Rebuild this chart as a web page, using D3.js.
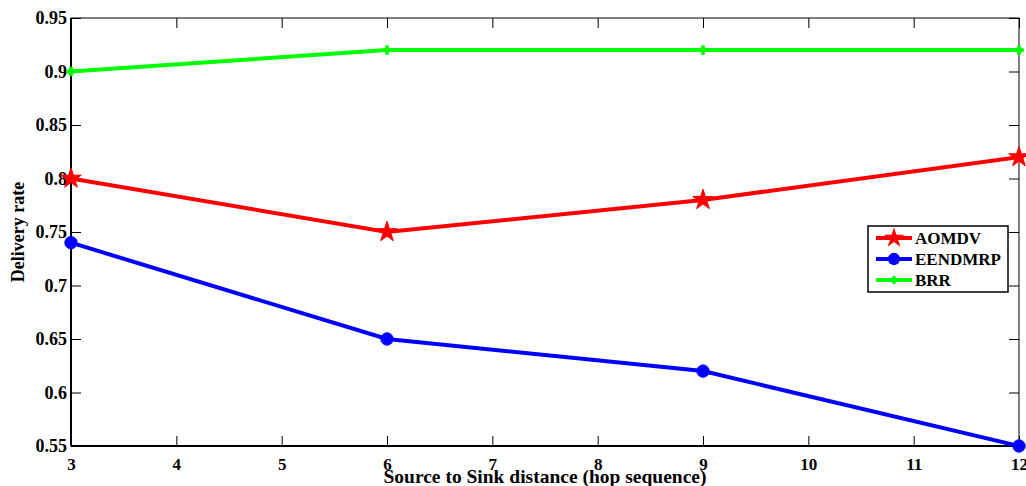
<!DOCTYPE html>
<html><head><meta charset="utf-8">
<script src="https://cdn.jsdelivr.net/npm/d3@7"></script>
<style>body{margin:0;background:#fff}svg{display:block}</style>
</head><body><svg id="c" width="1026" height="486"></svg>
<script>
const xValues = [3, 6, 9, 12];
const aomdv = [0.80, 0.75, 0.78, 0.82];
const eendmrp = [0.74, 0.65, 0.62, 0.55];
const brr = [0.90, 0.92, 0.92, 0.92];
const xTicks = [3,4,5,6,7,8,9,10,11,12];
const yTicks = [0.55,0.6,0.65,0.7,0.75,0.8,0.85,0.9,0.95];
const seriesNames = ["AOMDV", "EENDMRP", "BRR"];
const xLabel = "Source to Sink distance (hop sequence)";
const yLabel = "Delivery rate";

const svg = d3.select("#c");
const L = 71, R = 1019, T = 18, B = 446;
const x = d3.scaleLinear().domain([3, 12]).range([L, R]);
const y = d3.scaleLinear().domain([0.55, 0.95]).range([B, T]);
const font = "'Liberation Serif','Times New Roman',serif";

// box
svg.append("rect").attr("x", L).attr("y", T).attr("width", R - L).attr("height", B - T)
  .attr("fill", "none").attr("stroke", "#000").attr("stroke-width", 1);
svg.append("line").attr("x1", L).attr("x2", R).attr("y1", B).attr("y2", B).attr("stroke", "#000").attr("stroke-width", 2);
svg.append("line").attr("x1", L).attr("x2", L).attr("y1", T).attr("y2", B).attr("stroke", "#000").attr("stroke-width", 2);

const fmt = d => String(+d.toFixed(2));
const xAxis = svg.append("g").attr("transform", `translate(0,${B})`)
  .call(d3.axisBottom(x).tickValues(xTicks).tickSizeInner(-10).tickSizeOuter(0).tickPadding(24).tickFormat(d => d));
const yAxis = svg.append("g").attr("transform", `translate(${L},0)`)
  .call(d3.axisLeft(y).tickValues(yTicks).tickSizeInner(-10).tickSizeOuter(0).tickPadding(4).tickFormat(fmt));
svg.append("g").attr("transform", `translate(0,${T})`)
  .call(d3.axisTop(x).tickValues(xTicks).tickSizeInner(-10).tickSizeOuter(0).tickFormat(""));
svg.append("g").attr("transform", `translate(${R},0)`)
  .call(d3.axisRight(y).tickValues(yTicks).tickSizeInner(-10).tickSizeOuter(0).tickFormat(""));
svg.selectAll(".domain").remove();
svg.selectAll(".tick line").attr("stroke", "#000").attr("stroke-width", 1);
svg.selectAll(".tick text").attr("font-family", font).attr("font-weight", "bold")
  .attr("font-size", 18).attr("fill", "#000");
xAxis.selectAll(".tick text").attr("dy", "0").attr("font-size", 17);

svg.append("text").attr("x", (L + R) / 2).attr("y", 483).attr("text-anchor", "middle")
  .attr("font-family", font).attr("font-weight", "bold").attr("font-size", 19.5).text(xLabel);
svg.append("text").attr("transform", `translate(24,${(T + B) / 2}) rotate(-90)`).attr("text-anchor", "middle")
  .attr("font-family", font).attr("font-weight", "bold").attr("font-size", 18).text(yLabel);

const line = d3.line().x((d, i) => x(xValues[i])).y(d => y(d));
const star = d3.symbol().type(d3.symbolStar).size(130);
const circ = d3.symbol().type(d3.symbolCircle).size(120);
const cross = d3.symbol().type(d3.symbolCross).size(40);
const series = [
  {vals: aomdv, color: "#ff0000", sym: star},
  {vals: eendmrp, color: "#0000ff", sym: circ},
  {vals: brr, color: "#00ff00", sym: cross}
];
series.forEach(s => {
  svg.append("path").attr("d", line(s.vals)).attr("fill", "none").attr("stroke", s.color).attr("stroke-width", 4);
  svg.selectAll(null).data(s.vals).enter().append("path")
    .attr("transform", (d, i) => `translate(${x(xValues[i])},${y(d)})`)
    .attr("d", s.sym()).attr("fill", s.color).attr("stroke", s.color).attr("stroke-width", 1);
});

// legend
const lg = svg.append("g");
lg.append("rect").attr("x", 868).attr("y", 226).attr("width", 140).attr("height", 66)
  .attr("fill", "#fff").attr("stroke", "#000").attr("stroke-width", 1.5);
series.forEach((s, i) => {
  const yy = 238 + i * 21;
  lg.append("line").attr("x1", 876).attr("x2", 912).attr("y1", yy).attr("y2", yy)
    .attr("stroke", s.color).attr("stroke-width", 4);
  lg.append("path").attr("transform", `translate(894,${yy})`).attr("d", s.sym()).attr("fill", s.color);
  lg.append("text").attr("x", 915).attr("y", yy).attr("dy", "0.35em")
    .attr("font-family", font).attr("font-weight", "bold").attr("font-size", 17).text(seriesNames[i]);
});
</script></body></html>
